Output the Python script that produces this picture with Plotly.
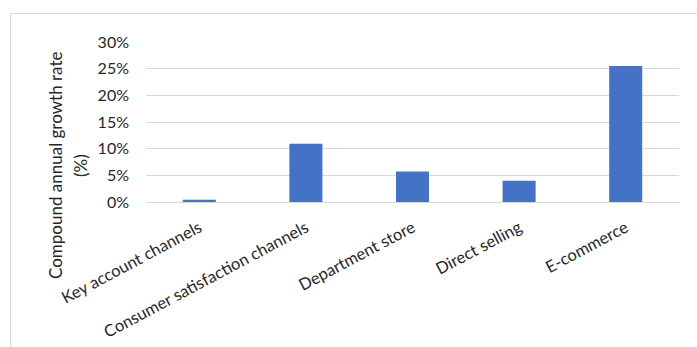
import plotly.graph_objects as go

categories = ["Key account channels", "Consumer satisfaction channels", "Department store", "Direct selling", "E-commerce"]
cagr = [0.004, 0.109, 0.057, 0.040, 0.255]
tick_vals = [0, 0.05, 0.10, 0.15, 0.20, 0.25, 0.30]
tick_text = ["0%", "5%", "10%", "15%", "20%", "25%", "30%"]

W, H = 697, 347
L, R, T, B = 146, 18, 42, 145
pw, ph = W - L - R, H - T - B

def px(x):
    return (x - L) / pw

def py(y):
    return (H - B - y) / ph

font = "Lato, Carlito, Calibri, sans-serif"
txt = "#262626"

fig = go.Figure(go.Bar(x=categories, y=cagr, marker=dict(color="#4472C4", line=dict(width=0)), width=0.31))

fig.update_layout(
    width=W, height=H,
    margin=dict(l=L, r=R, t=T, b=B),
    paper_bgcolor="white", plot_bgcolor="white",
    showlegend=False,
    font=dict(family=font, size=16, color=txt),
    xaxis=dict(tickangle=-28, showgrid=False, showline=True, linecolor="#d9d9d9", linewidth=1,
               ticks="", tickfont=dict(size=16.5, color=txt), ticklabelstandoff=9, automargin=False),
    yaxis=dict(range=[0, 0.30], tickvals=tick_vals, ticktext=tick_text, showgrid=True,
               gridcolor="#d9d9d9", gridwidth=1, zeroline=False, showline=False, automargin=False,
               ticks="", tickfont=dict(size=16, color=txt), ticklabelstandoff=16),
    shapes=[
        dict(type="line", xref="paper", yref="paper", x0=px(10.5), x1=px(10.5), y0=py(13.5), y1=py(360),
             line=dict(color="#d9d9d9", width=1)),
        dict(type="line", xref="paper", yref="paper", x0=px(10.5), x1=px(700), y0=py(13.5), y1=py(13.5),
             line=dict(color="#d9d9d9", width=1)),
    ],
    annotations=[
        dict(text="Compound annual growth rate", xref="paper", yref="paper", x=px(55), y=py(166),
             textangle=-90, showarrow=False, xanchor="center", yanchor="middle",
             font=dict(size=17, color=txt, family=font)),
        dict(text="(%)", xref="paper", yref="paper", x=px(80), y=py(166),
             textangle=-90, showarrow=False, xanchor="center", yanchor="middle",
             font=dict(size=17, color=txt, family=font)),
    ],
)

fig.write_html("out.html")
